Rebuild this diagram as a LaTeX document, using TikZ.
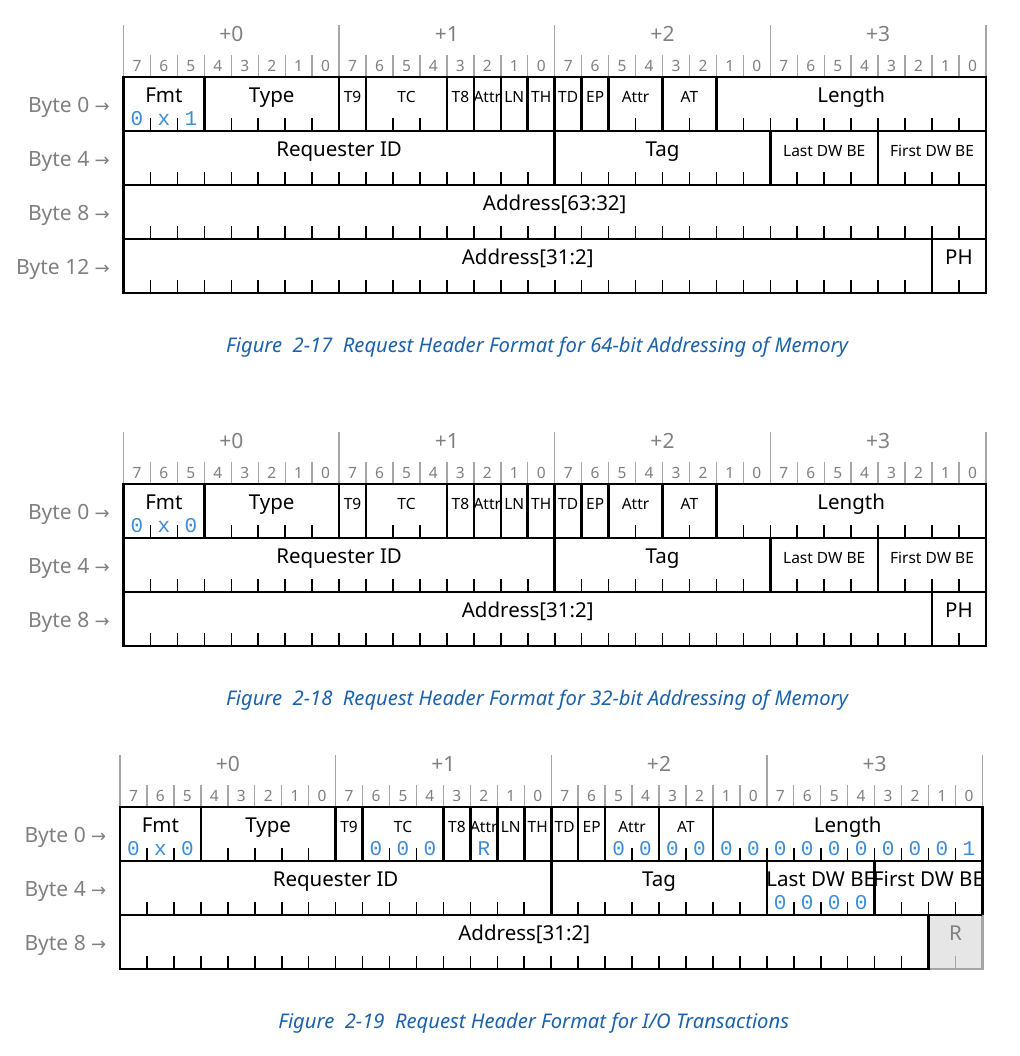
\documentclass[tikz,border=0pt]{standalone}
\usepackage{fontspec}
\setmainfont{Noto Sans}
\newfontfamily\valfont{Liberation Mono}
\newfontfamily\arrowfont{DejaVu Sans}

\definecolor{hdrgray}{RGB}{165,165,165}
\definecolor{numgray}{RGB}{128,128,128}
\definecolor{valblue}{RGB}{60,140,215}
\definecolor{capblue}{RGB}{28,98,170}
\definecolor{rfill}{RGB}{230,230,230}

\tikzset{
  boxline/.style={line width=2.6pt},
  tickline/.style={line width=1.6pt},
  hdrline/.style={draw=hdrgray, line width=1.4pt},
  fbig/.style={anchor=base, inner sep=0pt, font=\fontsize{20.5}{24}\selectfont},
  fsmall/.style={anchor=base, inner sep=0pt, font=\fontsize{15.5}{18}\selectfont},
  fval/.style={anchor=base, inner sep=0pt, text=valblue, font=\valfont\fontsize{21}{24}\selectfont},
  bitnum/.style={anchor=base, inner sep=0pt, text=numgray, font=\fontsize{15.5}{18}\selectfont},
  bytenum/.style={anchor=base, inner sep=0pt, text=numgray, font=\fontsize{21}{24}\selectfont},
  rowlab/.style={anchor=base east, inner sep=0pt, text=numgray, font=\fontsize{21}{24}\selectfont},
  figcap/.style={anchor=base, inner sep=0pt, text=capblue, font=\itshape\fontsize{20.2}{23}\selectfont},
}

\newcommand\arr{{\arrowfont\fontsize{18}{20}\selectfont →}}

% header: byte offsets, bit numbers and gray rules
\newcommand\reghdr{%
  \foreach \B in {0,...,3} {
    \node[bytenum] (byte\B) at (\B*8+4,-0.654) {+\B};
    \foreach \k in {0,...,7} {
      \pgfmathtruncatemacro\bitno{7-\k}
      \node[bitnum] (bit\B\k) at (\B*8+\k+0.5,-0.1) {\bitno};
    }
  }
  \foreach \x in {0,8,...,32} \draw[hdrline] (\x,0) -- (\x,-0.963);
  \foreach \x in {1,...,31} \draw[hdrline] (\x,0) -- (\x,-0.407);
}

% [style] row, first bit, width, text
\newcommand\regfield[5][fbig]{%
  \node[#1] (fld-#2-#3) at (#3+#4/2,#2+0.47) {#5};
  \draw[boxline] (#3,#2) rectangle ++(#4,1);
  \ifnum#4>1
    \pgfmathtruncatemacro\fa{#3+1}
    \pgfmathtruncatemacro\fb{#3+#4-1}
    \foreach \t in {\fa,...,\fb} \draw[tickline] (\t,#2+1) -- ++(0,-0.24);
  \fi
}

% row, first bit, values
\newcommand\regvals[3]{%
  \foreach \v [count=\i from 0] in {#3}
    \node[fval] (val-#1-#2-\i) at (#2+\i+0.5,#1+0.9) {\v};
}

\newcommand\rowlabels[1]{%
  \foreach \r/\n in {#1}
    \node[rowlab] (row\r) at (-0.5,\r+0.66) {Byte \n\ \arr};
}

% row 0 fields, same in all three pictures
\newcommand\dwzero[1]{%
  \regfield{0}{0}{3}{Fmt}
  \regfield{0}{3}{5}{Type}
  \regfield[fsmall]{0}{8}{1}{T9}
  \regfield[fsmall]{0}{9}{3}{TC}
  \regfield[fsmall]{0}{12}{1}{T8}
  \regfield[fsmall]{0}{13}{1}{Attr}
  \regfield[fsmall]{0}{14}{1}{LN}
  \regfield[fsmall]{0}{15}{1}{TH}
  \regfield[fsmall]{0}{16}{1}{TD}
  \regfield[fsmall]{0}{17}{1}{EP}
  \regfield[fsmall]{0}{18}{2}{Attr}
  \regfield[fsmall]{0}{20}{2}{AT}
  \regfield{0}{22}{10}{Length}
  \regvals{0}{0}{#1}
}

\begin{document}
\begin{tikzpicture}
  \useasboundingbox (0,0) rectangle (1019pt,-1056pt);

  % 64-bit memory request
  \begin{scope}[shift={(123.5pt,-77pt)}, x=26.95pt, y=-54pt]
    \reghdr
    \rowlabels{0/0,1/4,2/8,3/12}
    \dwzero{0,x,1}
    \regfield{1}{0}{16}{Requester ID}
    \regfield{1}{16}{8}{Tag}
    \regfield[fsmall]{1}{24}{4}{Last DW BE}
    \regfield[fsmall]{1}{28}{4}{First DW BE}
    \regfield{2}{0}{32}{Address[63:32]}
    \regfield{3}{0}{30}{Address[31:2]}
    \regfield{3}{30}{2}{PH}
    \node[figcap] (cap1) at (15.35,5.11) {Figure\ \ 2-17\ \ Request Header Format for 64-bit Addressing of Memory};
  \end{scope}

  % 32-bit memory request
  \begin{scope}[shift={(123.5pt,-484pt)}, x=26.95pt, y=-54pt]
    \reghdr
    \rowlabels{0/0,1/4,2/8}
    \dwzero{0,x,0}
    \regfield{1}{0}{16}{Requester ID}
    \regfield{1}{16}{8}{Tag}
    \regfield[fsmall]{1}{24}{4}{Last DW BE}
    \regfield[fsmall]{1}{28}{4}{First DW BE}
    \regfield{2}{0}{30}{Address[31:2]}
    \regfield{2}{30}{2}{PH}
    \node[figcap] (cap2) at (15.35,4.11) {Figure\ \ 2-18\ \ Request Header Format for 32-bit Addressing of Memory};
  \end{scope}

  % I/O request
  \begin{scope}[shift={(120pt,-807pt)}, x=26.95pt, y=-54pt]
    \reghdr
    \rowlabels{0/0,1/4,2/8}
    \dwzero{0,x,0}
    \regvals{0}{9}{0,0,0}
    \regvals{0}{13}{R}
    \regvals{0}{18}{0,0,0,0,0,0,0,0,0,0,0,0,0,1}
    \regfield{1}{0}{16}{Requester ID}
    \regfield{1}{16}{8}{Tag}
    \regfield{1}{24}{4}{Last DW BE}
    \regfield{1}{28}{4}{First DW BE}
    \regvals{1}{24}{0,0,0,0}
    % reserved, grayed out
    \fill[rfill] (30,2) rectangle (32,3);
    \draw[hdrline, line width=2.4pt] (32,2) -- (32,3) -- (30,3);
    \draw[hdrline] (31,3) -- ++(0,-0.24);
    \node[fbig, text=numgray] (fld-2-30) at (31,2.47) {R};
    \draw[boxline] (30,2) -- (32,2);
    \regfield{2}{0}{30}{Address[31:2]}
    \node[figcap] (cap3) at (15.35,4.11) {Figure\ \ 2-19\ \ Request Header Format for I/O Transactions};
  \end{scope}
\end{tikzpicture}
\end{document}
